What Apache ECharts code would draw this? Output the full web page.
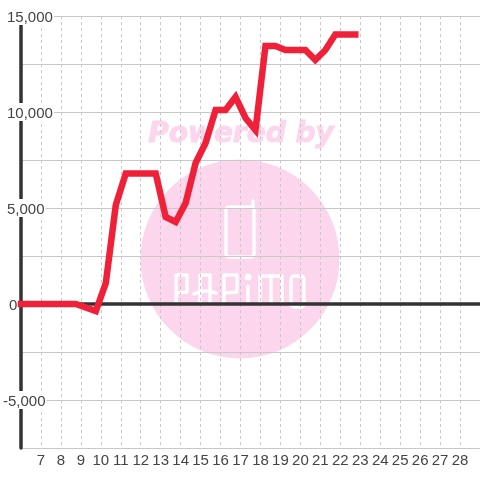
<!DOCTYPE html>
<html lang="en">
<head>
    <meta charset="UTF-8">
    <title>chart</title>
    <style>
        html,body{margin:0;padding:0;background:#fff;}
        #main{width:480px;height:480px;}
    </style>
    <script src="https://cdn.jsdelivr.net/npm/echarts@6/dist/echarts.min.js"></script>
</head>
<body>
<div id="main"></div>
<script type="text/javascript">
    var days = [6, 8.75, 9.75, 10.25, 10.75, 11.25, 12.75, 13.25, 13.75, 14.25, 14.75, 15.25, 15.75, 16.25, 16.75, 17.25, 17.75, 18.25, 18.75, 19.25, 20.25, 20.75, 21.25, 21.75, 22.75];
    var values = [0, 0, -365, 1094, 5156, 6800, 6800, 4531, 4271, 5260, 7344, 8385, 10104, 10104, 10781, 9688, 9063, 13438, 13438, 13229, 13229, 12708, 13229, 14040, 14040];
    var yLabels = {'15000': '15,000', '10000': '10,000', '5000': '5,000', '0': '0', '-5000': '-5,000'};

    var points = days.map(function (d, i) { return [d, values[i]]; });

    var myChart = echarts.init(document.getElementById('main'), null, {renderer: 'canvas'});

    // 水印
    var pink = '#fbd6ec';
    var glyph = {stroke: '#fff', lineWidth: 3.5, fill: null, lineJoin: 'round', lineCap: 'round', opacity: 0.95};
    function poly(pts) {
        return {type: 'polyline', z: -5, shape: {points: pts}, style: glyph};
    }
    var watermark = [
        {type: 'circle', z: -10, shape: {cx: 240, cy: 259, r: 99.5}, style: {fill: pink}},
        {type: 'text', z: -10, x: 241, y: 135, style: {
            text: 'Powered by', fill: pink, stroke: pink, lineWidth: 1, font: 'italic bold 28px "DejaVu Sans"',
            textAlign: 'center', textVerticalAlign: 'middle'
        }},
        {type: 'rect', z: -5, shape: {x: 226, y: 207, width: 28, height: 50, r: 3}, style: glyph},
        poly([[253, 207], [253, 201]]),
        poly([[176, 304], [176, 275], [187, 275], [187, 292], [176, 293]]),
        poly([[200, 304], [200, 275], [210, 275], [210, 304]]),
        poly([[194, 294], [202, 291], [209, 291], [216, 293]]),
        poly([[224, 304], [224, 275], [237, 275], [237, 292], [224, 293]]),
        {type: 'circle', z: -5, shape: {cx: 248, cy: 277, r: 3.5}, style: {fill: '#fff', opacity: 0.95}},
        poly([[248, 286], [248, 304]]),
        poly([[260, 304], [260, 276], [282, 276], [282, 304]]),
        poly([[271, 276], [271, 304]]),
        {type: 'rect', z: -5, shape: {x: 291, y: 276, width: 13, height: 31, r: 3}, style: glyph}
    ];

    var option = {
        animation: false,
        backgroundColor: '#fff',
        graphic: {elements: watermark},
        grid: {left: 20, right: 0, top: 16, bottom: 32},
        xAxis: [{
            type: 'value', min: 6, max: 29, interval: 1,
            axisLine: {show: false, onZero: false},
            axisTick: {show: false},
            axisLabel: {
                color: '#444', fontSize: 15, fontFamily: '"Liberation Sans"', margin: 5,
                showMinLabel: false, showMaxLabel: false
            },
            splitLine: {show: true, lineStyle: {color: '#c8c8c8', width: 1, type: [3, 3]}}
        }, {
            // 0 的那条粗线
            type: 'value', min: 6, max: 29, interval: 1, position: 'bottom',
            axisLine: {show: true, onZero: true, lineStyle: {color: '#333', width: 3.5}},
            axisTick: {show: false},
            axisLabel: {show: false},
            splitLine: {show: false}
        }],
        yAxis: {
            type: 'value', min: -7500, max: 15000, interval: 2500,
            axisLine: {show: true, onZero: false, lineStyle: {color: '#333', width: 3.5}},
            axisTick: {show: false},
            axisLabel: {
                margin: 18, align: 'left',
                formatter: function (v) {
                    var t = yLabels[String(v)];
                    if (!t) return '';
                    if (v === 0) return '{z|' + t + '}';
                    if (v < 0) return '{n|' + t + '}';
                    return '{p|' + t + '}';
                },
                rich: {
                    p: {color: '#444', fontSize: 15, fontFamily: '"Liberation Sans"', backgroundColor: '#fff', padding: [3, 1, 0, 4], height: 15, lineHeight: 15},
                    n: {color: '#444', fontSize: 15, fontFamily: '"Liberation Sans"', backgroundColor: '#fff', padding: [3, 1, 0, 0], height: 15, lineHeight: 15},
                    z: {color: '#444', fontSize: 15, fontFamily: '"Liberation Sans"', padding: [3, 0, 0, 6], height: 15, lineHeight: 15}
                }
            },
            splitLine: {show: true, lineStyle: {color: '#c8c8c8', width: 1}}
        },
        series: [{
            type: 'line',
            xAxisIndex: 0,
            data: points,
            showSymbol: false,
            clip: false,
            z: 5,
            lineStyle: {color: '#ef2038', width: 6.5, cap: 'square', join: 'miter'}
        }]
    };
    myChart.setOption(option);
</script>
</body>
</html>
